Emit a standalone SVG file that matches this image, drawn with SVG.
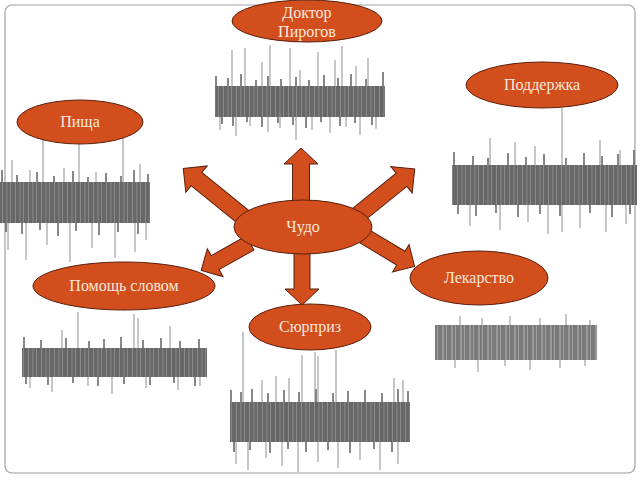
<svg xmlns="http://www.w3.org/2000/svg" width="640" height="480" viewBox="0 0 640 480">
<defs>
<pattern id="bars" width="13" height="10" patternUnits="userSpaceOnUse">
<rect width="13" height="10" fill="#676767"/>
<rect x="2" width="0.7" height="10" fill="#9a9a9a"/>
<rect x="6.5" width="0.9" height="10" fill="#8c8c8c"/>
<rect x="10" width="0.6" height="10" fill="#a0a0a0"/>
</pattern>
<pattern id="bars2" width="9" height="10" patternUnits="userSpaceOnUse">
<rect width="9" height="10" fill="#7a7a7a"/>
<rect x="1.5" width="1" height="10" fill="#b5b5b5"/>
<rect x="5" width="0.8" height="10" fill="#a8a8a8"/>
</pattern>
<style>
.node{fill:#d24f1d;stroke:#5a1e0c;stroke-width:1}
.lbl{font-family:"Liberation Serif","DejaVu Serif",serif;font-size:16px;fill:#fbe8dc;text-anchor:middle}
.arrow{fill:#d24f1d;stroke:#5a1e0c;stroke-width:1;stroke-linejoin:miter}
.band{fill:url(#bars)}
.band2{fill:url(#bars2)}
.fringe{stroke:#6a6a6a;stroke-width:1.6;fill:none}
.streak{stroke:#8f8f8f;stroke-width:1;fill:none}
</style>
</defs>
<rect x="5" y="5" width="630" height="468" rx="7" fill="#ffffff" stroke="#a0a0a0" stroke-width="1.2"/>

<g id="textblocks">
<g id="block-doktor">
<path class="streak" d="M232 50V86M245 48V86M262 62V86M270 45V86M290 48V86M300 70V86M318 52V86M335 60V86M342 46V86M356 66V86M368 58V86M220 117V130M236 117V136M250 117V126M268 117V132M280 117V128M296 117V140M312 117V130M330 117V133M346 117V127M360 117V135M376 117V129"/>
<path class="fringe" d="M216 76V86M228 78V86M241 74V86M256 80V86M268 76V86M281 79V86M296 77V86M309 80V86M324 75V86M338 78V86M351 74V86M366 79V86M383 72V86M222 117V124M233 117V126M247 117V122M262 117V127M278 117V123M293 117V125M306 117V128M321 117V122M340 117V126M355 117V123M372 117V125"/>
<rect class="band" x="215" y="86" width="170" height="31"/>
</g>
<g id="block-pishcha">
<path class="streak" d="M43 130V182M79 128V182M123 132V182M12 160V182M30 170V182M64 168V182M96 172V182M140 164V182M8 223V250M26 223V260M47 223V245M70 223V262M92 223V248M115 223V258M135 223V252M146 223V240"/>
<path class="fringe" d="M2 170V182M17 175V182M37 172V182M54 176V182M73 171V182M88 177V182M106 173V182M121 176V182M134 170V182M148 174V182M6 223V232M22 223V234M40 223V230M58 223V236M76 223V231M99 223V235M118 223V232M138 223V234"/>
<rect class="band" x="0" y="182" width="150" height="41"/>
</g>
<g id="block-podderzhka">
<path class="streak" d="M562 108V232M490 138V165M515 142V165M535 146V165M600 140V165M620 150V165M470 205V226M500 205V230M528 205V222M548 205V234M580 205V228M606 205V232M626 205V224"/>
<path class="fringe" d="M454 152V165M473 156V165M488 158V165M508 153V165M526 157V165M544 154V165M566 158V165M584 153V165M602 156V165M618 154V165M634 150V165M458 205V214M476 205V216M496 205V213M518 205V217M540 205V214M560 205V216M590 205V213M612 205V217M630 205V214"/>
<rect class="band" x="452" y="165" width="185" height="40"/>
</g>
<g id="block-pomoshch">
<path class="streak" d="M78 312V348M134 314V348M138 318V348M62 330V348M170 326V348M30 377V388M52 377V392M88 377V386M112 377V394M146 377V388M178 377V390M200 377V386"/>
<path class="fringe" d="M24 337V348M41 340V348M66 338V348M89 341V348M104 339V348M121 337V348M143 340V348M161 338V348M180 341V348M199 339V348M26 377V384M48 377V385M73 377V383M98 377V386M124 377V384M150 377V385M174 377V383M195 377V386"/>
<rect class="band" x="22" y="348" width="185" height="29"/>
</g>
<g id="block-surpriz">
<path class="streak" d="M243 332V402M302 355V402M315 352V402M318 356V402M336 350V402M262 380V402M276 376V402M289 378V402M394 378V402M403 380V402M236 442V464M248 442V470M266 442V458M282 442V466M298 442V472M318 442V462M338 442V468M360 442V460M380 442V470M398 442V464"/>
<path class="fringe" d="M231 390V402M241 392V402M252 389V402M268 393V402M284 390V402M299 392V402M316 389V402M333 393V402M348 391V402M365 390V402M382 393V402M398 389V402M408 391V402M234 442V452M250 442V450M270 442V453M288 442V449M306 442V452M328 442V450M350 442V453M374 442V449M392 442V452"/>
<rect class="band" x="230" y="402" width="180" height="40"/>
</g>
<g id="block-lekarstvo">
<path class="streak" d="M460 316V325M482 318V325M510 316V325M540 318V325M566 314V325M590 320V325M455 360V368M478 360V372M505 360V366M530 360V370M560 360V368M585 360V366"/>
<rect class="band2" x="435" y="325" width="162" height="35"/>
</g>
</g>

<g id="connectors">
<path class="arrow" transform="translate(301,202) rotate(-90)" d="M0,-8.5H38V-17L54,0L38,17V8.5H0Z"/>
<path class="arrow" transform="translate(302,250) rotate(90)" d="M0,-8H39V-17L55,0L39,17V8H0Z"/>
<path class="arrow" transform="translate(247,220) rotate(-141)" d="M0,-8.5H65V-17L82,0L65,17V8.5H0Z"/>
<path class="arrow" transform="translate(358,215) rotate(-39)" d="M0,-8.5H56V-17L73,0L56,17V8.5H0Z"/>
<path class="arrow" transform="translate(250,243) rotate(150.6)" d="M0,-8H40V-16L56,0L40,16V8H0Z"/>
<path class="arrow" transform="translate(364,236) rotate(31)" d="M0,-8H43V-16L59,0L43,16V8H0Z"/>
</g>

<g id="n-doktor">
<ellipse class="node" cx="307" cy="21" rx="75" ry="21"/>
<text class="lbl" x="307" y="18">Доктор</text>
<text class="lbl" x="307" y="37">Пирогов</text>
</g>
<g id="n-podderzhka">
<ellipse class="node" cx="542" cy="85" rx="76" ry="23"/>
<text class="lbl" x="542" y="90">Поддержка</text>
</g>
<g id="n-pishcha">
<ellipse class="node" cx="80" cy="122" rx="63" ry="22"/>
<text class="lbl" x="80" y="127">Пища</text>
</g>
<g id="n-chudo">
<ellipse class="node" cx="303" cy="227" rx="69" ry="27"/>
<text class="lbl" x="303" y="232">Чудо</text>
</g>
<g id="n-pomoshch">
<ellipse class="node" cx="124" cy="286" rx="91" ry="24"/>
<text class="lbl" x="124" y="291">Помощь словом</text>
</g>
<g id="n-surpriz">
<ellipse class="node" cx="310" cy="327" rx="61" ry="23"/>
<text class="lbl" x="310" y="332">Сюрприз</text>
</g>
<g id="n-lekarstvo">
<ellipse class="node" cx="479" cy="278" rx="69" ry="27"/>
<text class="lbl" x="479" y="283">Лекарство</text>
</g>
</svg>
